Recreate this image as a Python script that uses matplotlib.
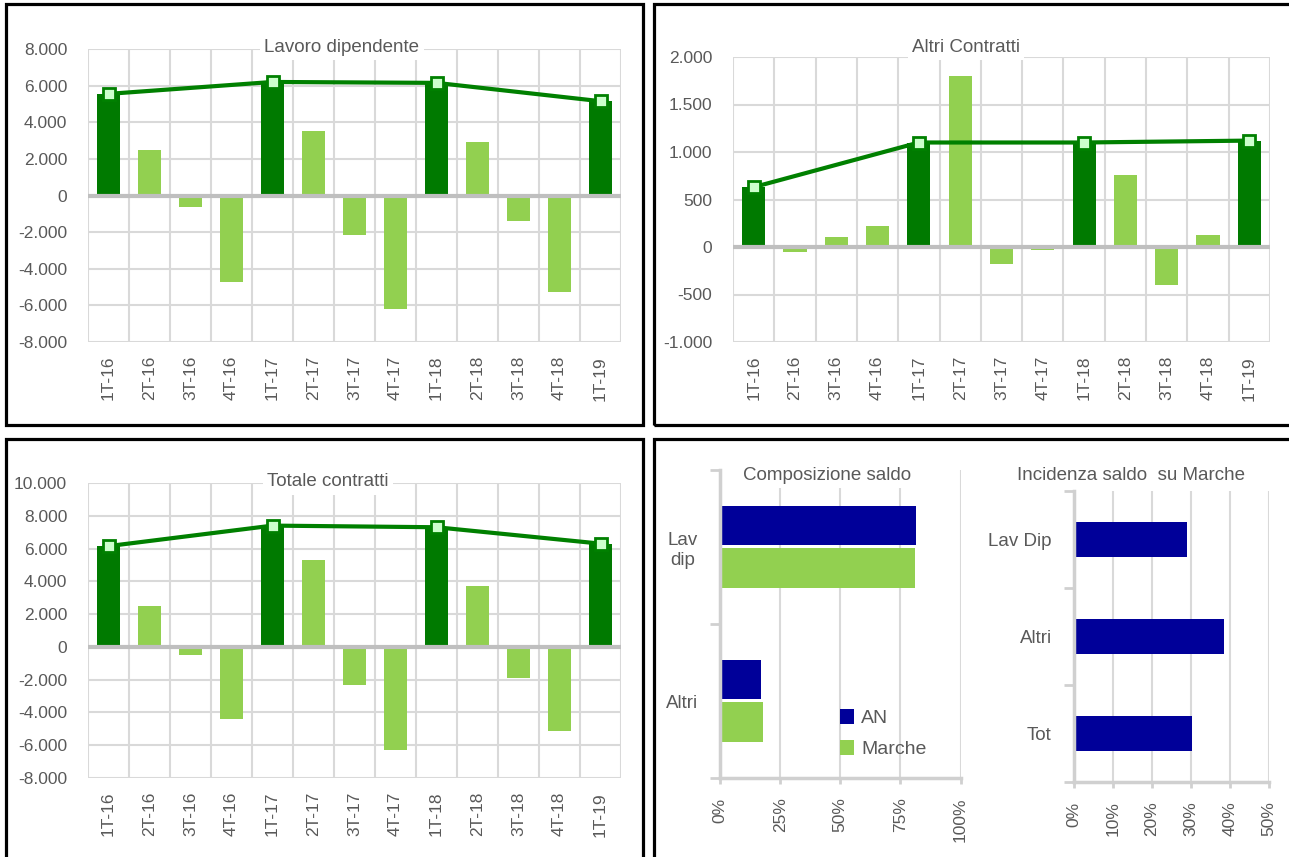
import numpy as np
import matplotlib
matplotlib.use('Agg')
import matplotlib.pyplot as plt
from matplotlib.patches import Rectangle
from matplotlib.ticker import FuncFormatter

plt.rcParams['font.family'] = ['Liberation Sans', 'DejaVu Sans']

# data
quarters = ['1T-16', '2T-16', '3T-16', '4T-16', '1T-17', '2T-17', '3T-17',
            '4T-17', '1T-18', '2T-18', '3T-18', '4T-18', '1T-19']
lavoro = [5550, 2500, -650, -4700, 6200, 3500, -2150, -6200, 6150, 2900, -1400, -5250, 5150]
altri = [630, -50, 110, 220, 1100, 1800, -180, -30, 1100, 760, -400, 130, 1120]
totale = [6150, 2500, -500, -4400, 7400, 5300, -2350, -6300, 7300, 3700, -1900, -5150, 6300]

comp_cats = ['Altri', 'Lav\ndip']
comp_an = [17.1, 81.7]
comp_marche = [17.8, 81.0]

inc_cats = ['Tot', 'Altri', 'Lav Dip']
inc_values = [30.3, 38.5, 29.0]

DARK = '#007A00'
LIGHT = '#92D050'
LINE = '#008000'
NAVY = '#000099'
GRID = '#D9D9D9'
AXIS = '#D0D0D0'
TXT = '#595959'

W, H = 1289, 857
fig = plt.figure(figsize=(W / 100, H / 100), dpi=100)


def fax(x1, y1, x2, y2):
    return fig.add_axes([x1 / W, 1 - y2 / H, (x2 - x1) / W, (y2 - y1) / H])


def border(x1, y1, x2, y2):
    fig.patches.append(Rectangle((x1 / W, 1 - y2 / H), (x2 - x1) / W, (y2 - y1) / H,
                                 transform=fig.transFigure, fill=False,
                                 edgecolor='black', lw=2.3))


def title(x, y, s):
    fig.text(x / W, 1 - y / H, s, ha='center', va='center', fontsize=13.5, color=TXT,
             bbox=dict(facecolor='white', edgecolor='none', pad=3), zorder=10)


def it_num(v, pos=None):
    return f'{int(round(v)):,}'.replace(',', '.')


def bar_panel(box, values, ylim, step):
    ax = fax(*box)
    x = np.arange(len(quarters))
    colors = [DARK if q.startswith('1T') else LIGHT for q in quarters]
    ax.bar(x, values, width=0.56, color=colors, zorder=2)
    idx = [i for i, q in enumerate(quarters) if q.startswith('1T')]
    ax.plot(idx, [values[i] for i in idx], color=LINE, lw=3, marker='s', ms=9,
            mfc='#CCFFCC', mec=LINE, mew=2, zorder=4, clip_on=False)
    ax.axhline(0, color='#BFBFBF', lw=3, zorder=3)
    ax.set_xlim(-0.5, 12.5)
    ax.set_ylim(*ylim)
    ax.set_yticks(np.arange(ylim[0], ylim[1] + 1, step))
    ax.yaxis.set_major_formatter(FuncFormatter(it_num))
    ax.set_xticks(x)
    ax.set_xticklabels(quarters, rotation=90)
    ax.set_xticks(np.arange(-0.5, 13, 1), minor=True)
    ax.set_axisbelow(True)
    ax.grid(axis='y', color=GRID, lw=1.5)
    ax.grid(axis='x', which='minor', color=GRID, lw=1.5)
    ax.tick_params(which='both', length=0, labelsize=12.5, colors=TXT)
    ax.tick_params(axis='x', pad=10)
    ax.tick_params(axis='y', pad=15)
    for s in ax.spines.values():
        s.set_visible(False)
    return ax


# panel borders
border(6, 4, 643, 425)
border(654, 4, 1300, 425)
border(6, 439, 643, 870)
border(654, 439, 1300, 870)

bar_panel((88, 49, 621, 342), lavoro, (-8000, 8000), 2000)
title(342, 47, 'Lavoro dipendente')

bar_panel((733, 57, 1270, 342), altri, (-1000, 2000), 500)
title(966, 47, 'Altri Contratti')

bar_panel((88, 483, 621, 778), totale, (-8000, 10000), 2000)
title(328, 482, 'Totale contratti')


def hbar_style(ax, ncat):
    ax.set_ylim(-0.5, ncat - 0.5)
    ax.set_yticks(np.arange(ncat))
    ax.set_yticks(np.arange(-0.5, ncat, 1), minor=True)
    ax.set_axisbelow(True)
    ax.grid(axis='x', color=GRID, lw=1.5)
    for s in ['top', 'right']:
        ax.spines[s].set_visible(False)
    for s in ['left', 'bottom']:
        ax.spines[s].set_color(AXIS)
        ax.spines[s].set_linewidth(2.5)
    ax.tick_params(axis='y', which='major', length=0, labelsize=13.5, colors=TXT, pad=16)
    ax.tick_params(axis='y', which='minor', length=7, width=2, color=AXIS)
    ax.tick_params(axis='x', length=4, width=2, color=AXIS, labelsize=12.5,
                   labelcolor=TXT, pad=10)


# composizione saldo
ax = fax(720, 470, 960.5, 778)
y = np.arange(len(comp_cats))
ax.barh(y + 0.14, comp_an, height=0.255, color=NAVY, label='AN')
ax.barh(y - 0.135, comp_marche, height=0.26, color=LIGHT, label='Marche')
ax.set_xlim(0, 100)
ax.set_xticks([0, 25, 50, 75, 100])
ax.set_xticklabels([f'{v}%' for v in [0, 25, 50, 75, 100]], rotation=90)
hbar_style(ax, len(comp_cats))
ax.set_yticklabels(comp_cats, ma='center')
leg = ax.legend(loc='upper left', bbox_to_anchor=(840 / W, 1 - 709 / H),
                bbox_transform=fig.transFigure, frameon=False, fontsize=14,
                handlelength=0.7, handleheight=0.8, handletextpad=0.4,
                labelspacing=0.65, borderpad=0, borderaxespad=0)
for t in leg.get_texts():
    t.set_color(TXT)
title(827, 475, 'Composizione saldo')

# incidenza saldo su Marche
ax = fax(1074, 491, 1268.6, 782)
y = np.arange(len(inc_cats))
ax.barh(y, inc_values, height=0.36, color=NAVY)
ax.set_xlim(0, 50)
ax.set_xticks(np.arange(0, 51, 10))
ax.set_xticklabels([f'{v}%' for v in range(0, 51, 10)], rotation=90)
hbar_style(ax, len(inc_cats))
ax.set_yticklabels(inc_cats)
title(1131, 475, 'Incidenza saldo  su Marche')

fig.savefig('out.png', dpi=100)
